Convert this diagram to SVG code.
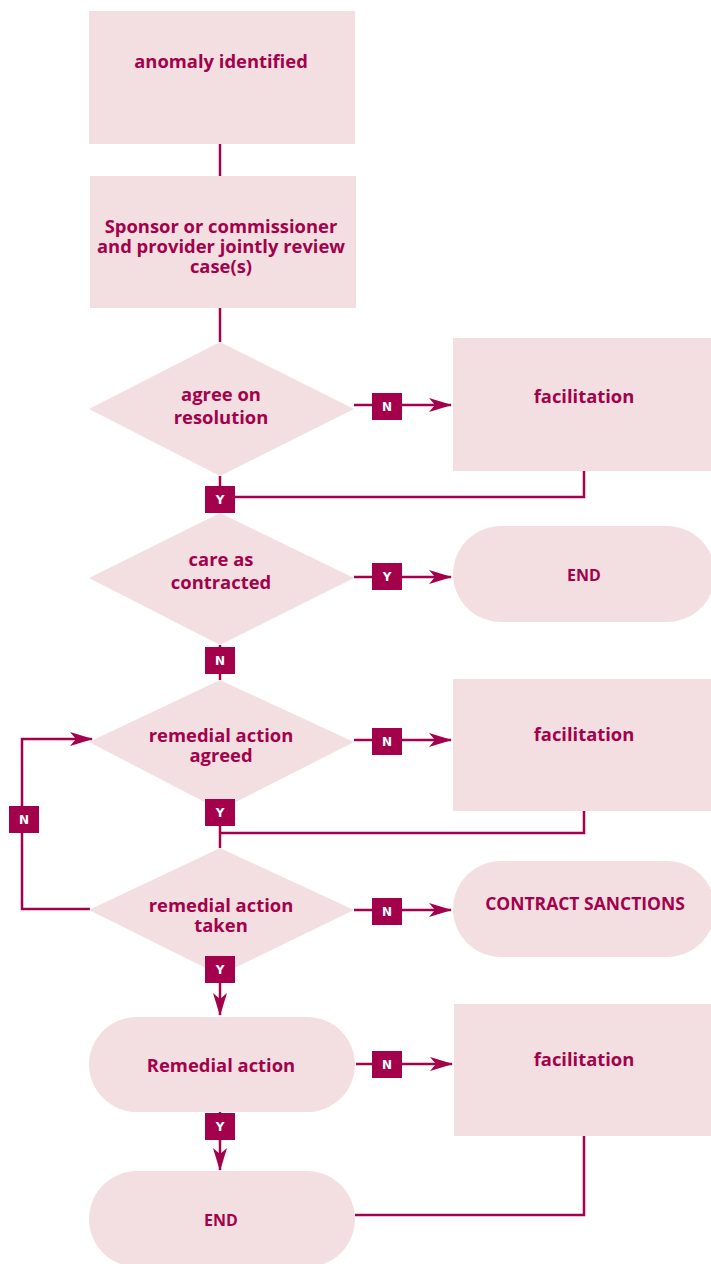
<svg xmlns="http://www.w3.org/2000/svg" width="711" height="1264" viewBox="0 0 711 1264">
  <style>
    .shape { fill: #f3dfe1; }
    .lbl { font-family: "Open Sans", "DejaVu Sans", sans-serif; font-weight: bold; font-size: 18.4px; fill: #a3014b; text-anchor: middle; }
    .sm { font-size: 16px; }
    .caps { font-size: 17.5px; }
    .wire { fill: none; stroke: #a3014b; stroke-width: 2.5; }
    .tag rect { fill: #a3014b; }
    .tag text { font-family: "DejaVu Sans", sans-serif; font-weight: bold; font-size: 12px; fill: #ffffff; text-anchor: middle; }
  </style>
  <defs>
    <marker id="arrow" viewBox="0 -8 24 16" refX="22" refY="0" markerWidth="24" markerHeight="16" markerUnits="userSpaceOnUse" orient="auto">
      <path d="M0,-7 L23,0 L0,7 L6,0 Z" fill="#a3014b"/>
    </marker>
  </defs>

  <!-- connectors -->
  <g id="connectors">
    <path class="wire" d="M220,144 V176"/>
    <path class="wire" d="M220,308 V342"/>
    <path class="wire" d="M354,405 H451" marker-end="url(#arrow)"/>
    <path class="wire" d="M220,476 V513"/>
    <path class="wire" d="M584,471 V497 H220"/>
    <path class="wire" d="M354,577 H451" marker-end="url(#arrow)"/>
    <path class="wire" d="M220,645 V680"/>
    <path class="wire" d="M354,740 H451" marker-end="url(#arrow)"/>
    <path class="wire" d="M220,810 V848"/>
    <path class="wire" d="M584,811 V833 H220"/>
    <path class="wire" d="M90,909 H22 V739 H92" marker-end="url(#arrow)"/>
    <path class="wire" d="M354,910 H451" marker-end="url(#arrow)"/>
    <path class="wire" d="M220,975 V1015" marker-end="url(#arrow)"/>
    <path class="wire" d="M356,1064 H452" marker-end="url(#arrow)"/>
    <path class="wire" d="M220,1112 V1170" marker-end="url(#arrow)"/>
    <path class="wire" d="M584,1136 V1215 H355"/>
  </g>

  <!-- process boxes -->
  <g id="anomaly">
    <rect class="shape" x="89" y="11" width="266" height="133"/>
    <text class="lbl" x="221" y="68">anomaly identified</text>
  </g>
  <g id="review">
    <rect class="shape" x="90" y="176" width="266" height="132"/>
    <text class="lbl" x="221" y="233">Sponsor or commissioner</text>
    <text class="lbl" x="221" y="253">and provider jointly review</text>
    <text class="lbl" x="221" y="273">case(s)</text>
  </g>

  <!-- decisions -->
  <g id="agree">
    <polygon class="shape" points="220,342 354,409 220,476 89,409"/>
    <text class="lbl" x="221" y="401">agree on</text>
    <text class="lbl" x="221" y="424">resolution</text>
  </g>
  <g id="care">
    <polygon class="shape" points="220,513 354,578 220,645 89,578"/>
    <text class="lbl" x="221" y="566">care as</text>
    <text class="lbl" x="221" y="589">contracted</text>
  </g>
  <g id="agreed">
    <polygon class="shape" points="220,680 354,742 220,810 89,742"/>
    <text class="lbl" x="221" y="742">remedial action</text>
    <text class="lbl" x="221" y="762">agreed</text>
  </g>
  <g id="taken">
    <polygon class="shape" points="220,848 354,910 220,975 89,910"/>
    <text class="lbl" x="221" y="912">remedial action</text>
    <text class="lbl" x="221" y="932">taken</text>
  </g>

  <!-- facilitation boxes -->
  <g id="facilitation1">
    <rect class="shape" x="453" y="338" width="262" height="133"/>
    <text class="lbl" x="584" y="403">facilitation</text>
  </g>
  <g id="facilitation2">
    <rect class="shape" x="453" y="679" width="262" height="132"/>
    <text class="lbl" x="584" y="741">facilitation</text>
  </g>
  <g id="facilitation3">
    <rect class="shape" x="454" y="1004" width="261" height="132"/>
    <text class="lbl" x="584" y="1066">facilitation</text>
  </g>

  <!-- terminators -->
  <g id="end1">
    <rect class="shape" x="453" y="526" width="262" height="96" rx="48" ry="48"/>
    <text class="lbl sm" x="584" y="581">END</text>
  </g>
  <g id="sanctions">
    <rect class="shape" x="453" y="861" width="262" height="96" rx="48" ry="48"/>
    <text class="lbl caps" x="585" y="910">CONTRACT SANCTIONS</text>
  </g>
  <g id="remedial">
    <rect class="shape" x="89" y="1017" width="266" height="95" rx="48" ry="48"/>
    <text class="lbl" x="221" y="1072">Remedial action</text>
  </g>
  <g id="end2">
    <rect class="shape" x="89" y="1171" width="266" height="96" rx="48" ry="48"/>
    <text class="lbl sm" x="221" y="1226">END</text>
  </g>

  <!-- Y / N tags -->
  <g id="tags" class="tag">
    <rect x="372" y="393" width="30" height="27"/><text x="387" y="411">N</text>
    <rect x="205" y="486" width="30" height="27"/><text x="220" y="504">Y</text>
    <rect x="372" y="563" width="30" height="27"/><text x="387" y="581">Y</text>
    <rect x="205" y="647" width="30" height="27"/><text x="220" y="665">N</text>
    <rect x="372" y="728" width="30" height="27"/><text x="387" y="746">N</text>
    <rect x="205" y="799" width="30" height="27"/><text x="220" y="817">Y</text>
    <rect x="9" y="806" width="30" height="27"/><text x="24" y="824">N</text>
    <rect x="372" y="898" width="30" height="27"/><text x="387" y="916">N</text>
    <rect x="205" y="956" width="30" height="27"/><text x="220" y="974">Y</text>
    <rect x="372" y="1051" width="30" height="27"/><text x="387" y="1069">N</text>
    <rect x="205" y="1113" width="30" height="27"/><text x="220" y="1131">Y</text>
  </g>
</svg>
